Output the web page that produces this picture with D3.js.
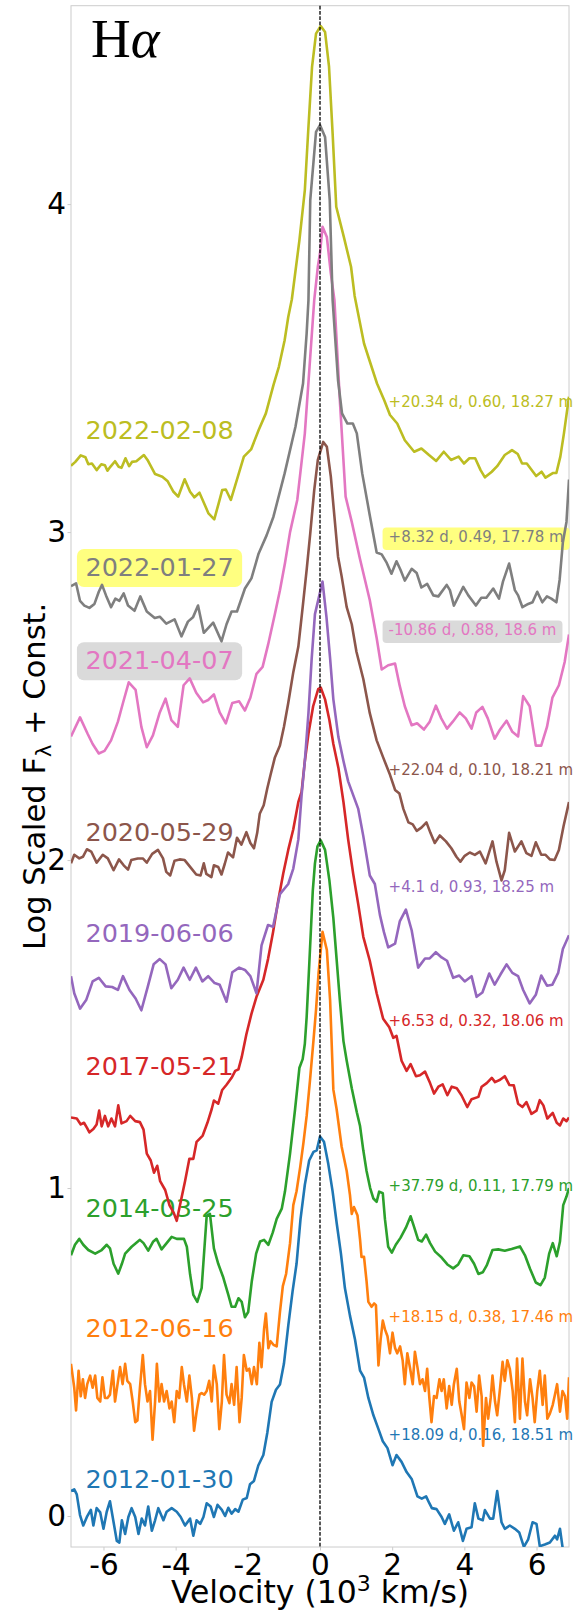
<!DOCTYPE html>
<html>
<head>
<meta charset="utf-8">
<script src="https://cdn.jsdelivr.net/npm/d3@7"></script>
<style>
  html, body { margin: 0; padding: 0; background: #fff; }
  svg { display: block; }
  text { font-family: "DejaVu Sans", sans-serif; }
</style>
</head>
<body>
<svg id="chart" width="579" height="1619"></svg>
<script>
// observation dates, bottom to top
const dates = ["2012-01-30", "2012-06-16", "2014-03-25", "2017-05-21", "2019-06-06",
  "2020-05-29", "2021-04-07", "2022-01-27", "2022-02-08"];

const lineColors = ["#1f77b4", "#ff7f0e", "#2ca02c", "#d62728", "#9467bd",
  "#8c564b", "#e377c2", "#7f7f7f", "#bcbd22"];

// phase, something, magnitude notes on the right
const notes = ["+18.09 d, 0.16, 18.51 m", "+18.15 d, 0.38, 17.46 m", "+37.79 d, 0.11, 17.79 m",
  "+6.53 d, 0.32, 18.06 m", "+4.1 d, 0.93, 18.25 m", "+22.04 d, 0.10, 18.21 m",
  "-10.86 d, 0.88, 18.6 m", "+8.32 d, 0.49, 17.78 m", "+20.34 d, 0.60, 18.27 m"];

// label baselines (data units)
const dateLabelY = [0.085, 0.546, 0.912, 1.345, 1.750, 2.058, 2.582, 2.866, 3.284];
const noteY = [0.232, 0.591, 0.991, 1.494, 1.902, 2.259, 2.686, 2.970, 3.381];
const dateLabelX = -6.5;
const noteX = 1.9;

// highlighted labels: index -> box colour
const labelBoxes = { 6: "#dadada", 7: "#ffff80" };

const xTicks = [-6, -4, -2, 0, 2, 4, 6];
const yTicks = [0, 1, 2, 3, 4];

// spectra: [velocity (10^3 km/s), log scaled flux + const]
const s20120130 = [[-6.90,0.076],[-6.81,0.081],[-6.74,0.066],[-6.65,0.003],[-6.56,-0.029],[-6.46,-0.003],[-6.35,0.019],[-6.28,-0.029],[-6.19,0.024],[-6.09,0.011],[-6.00,-0.039],[-5.91,0.013],[-5.82,0.045],[-5.72,-0.019],[-5.63,-0.076],[-5.56,-0.081],[-5.49,-0.013],[-5.40,-0.055],[-5.31,-0.003],[-5.22,0.024],[-5.12,-0.003],[-5.03,-0.055],[-4.94,-0.008],[-4.85,-0.029],[-4.76,0.029],[-4.66,-0.045],[-4.57,-0.013],[-4.48,0.024],[-4.34,-0.013],[-4.25,0.013],[-4.11,0.024],[-3.97,0.013],[-3.86,-0.003],[-3.74,-0.029],[-3.60,-0.008],[-3.51,-0.060],[-3.42,-0.013],[-3.32,-0.024],[-3.23,-0.003],[-3.14,0.039],[-3.03,0.029],[-2.94,-0.003],[-2.84,0.034],[-2.72,0.019],[-2.63,0.000],[-2.54,0.025],[-2.45,0.007],[-2.35,0.021],[-2.26,0.013],[-2.14,0.050],[-2.03,0.055],[-1.94,0.097],[-1.83,0.107],[-1.71,0.154],[-1.57,0.186],[-1.46,0.254],[-1.34,0.348],[-1.22,0.385],[-1.11,0.401],[-1.00,0.464],[-0.88,0.580],[-0.76,0.685],[-0.65,0.769],[-0.54,0.905],[-0.42,1.010],[-0.30,1.084],[-0.18,1.110],[-0.09,1.115],[0.00,1.157],[0.11,1.141],[0.23,1.073],[0.35,0.989],[0.46,0.895],[0.58,0.800],[0.69,0.695],[0.83,0.611],[0.97,0.538],[1.11,0.443],[1.22,0.422],[1.34,0.360],[1.48,0.307],[1.62,0.265],[1.74,0.228],[1.87,0.207],[2.01,0.155],[2.12,0.186],[2.26,0.165],[2.40,0.134],[2.54,0.113],[2.70,0.060],[2.82,0.053],[2.94,0.060],[3.03,0.039],[3.10,0.024],[3.23,0.021],[3.37,-0.003],[3.46,-0.024],[3.58,0.005],[3.71,-0.045],[3.83,-0.019],[3.96,-0.076],[4.06,-0.039],[4.20,-0.034],[4.29,0.039],[4.39,-0.008],[4.51,-0.013],[4.57,0.018],[4.71,-0.008],[4.80,-0.008],[4.91,0.076],[5.03,-0.019],[5.12,-0.039],[5.26,-0.029],[5.40,-0.039],[5.52,-0.050],[5.65,-0.094],[5.77,-0.071],[5.89,-0.019],[6.00,-0.024],[6.09,-0.092],[6.23,-0.087],[6.37,-0.081],[6.51,-0.060],[6.57,-0.071],[6.65,-0.039],[6.72,-0.094],[6.83,-0.200]];

const s20120616 = [[-6.90,0.464],[-6.81,0.391],[-6.76,0.322],[-6.69,0.443],[-6.63,0.365],[-6.57,0.417],[-6.51,0.360],[-6.45,0.402],[-6.37,0.428],[-6.30,0.391],[-6.23,0.428],[-6.17,0.360],[-6.09,0.349],[-6.03,0.423],[-5.96,0.360],[-5.89,0.360],[-5.82,0.370],[-5.74,0.443],[-5.68,0.349],[-5.61,0.402],[-5.54,0.454],[-5.47,0.402],[-5.40,0.464],[-5.34,0.412],[-5.26,0.402],[-5.19,0.349],[-5.12,0.286],[-5.06,0.291],[-4.99,0.391],[-4.91,0.491],[-4.85,0.402],[-4.78,0.349],[-4.71,0.381],[-4.64,0.233],[-4.57,0.349],[-4.52,0.464],[-4.45,0.349],[-4.39,0.402],[-4.32,0.349],[-4.25,0.381],[-4.17,0.328],[-4.11,0.349],[-4.04,0.286],[-3.97,0.381],[-3.90,0.360],[-3.83,0.454],[-3.77,0.402],[-3.69,0.349],[-3.62,0.428],[-3.55,0.360],[-3.49,0.260],[-3.42,0.318],[-3.34,0.370],[-3.28,0.375],[-3.21,0.370],[-3.14,0.381],[-3.07,0.412],[-3.00,0.349],[-2.94,0.459],[-2.86,0.402],[-2.79,0.265],[-2.72,0.349],[-2.66,0.491],[-2.59,0.370],[-2.51,0.344],[-2.45,0.402],[-2.38,0.339],[-2.31,0.454],[-2.23,0.286],[-2.17,0.360],[-2.11,0.491],[-2.03,0.443],[-1.96,0.449],[-1.89,0.402],[-1.83,0.454],[-1.75,0.402],[-1.68,0.528],[-1.62,0.454],[-1.55,0.570],[-1.50,0.617],[-1.43,0.512],[-1.37,0.533],[-1.29,0.522],[-1.20,0.517],[-1.11,0.622],[-1.03,0.701],[-0.94,0.738],[-0.83,0.832],[-0.74,0.948],[-0.65,0.990],[-0.55,1.063],[-0.46,1.137],[-0.37,1.220],[-0.28,1.325],[-0.18,1.451],[-0.11,1.543],[-0.04,1.655],[0.07,1.781],[0.19,1.726],[0.28,1.573],[0.37,1.300],[0.46,1.241],[0.60,1.126],[0.74,1.052],[0.83,0.979],[0.88,0.921],[0.94,0.942],[1.04,0.916],[1.11,0.843],[1.15,0.790],[1.22,0.790],[1.29,0.716],[1.34,0.653],[1.43,0.638],[1.50,0.648],[1.55,0.643],[1.62,0.459],[1.68,0.538],[1.74,0.596],[1.80,0.569],[1.87,0.548],[1.94,0.496],[2.01,0.559],[2.08,0.512],[2.14,0.496],[2.22,0.517],[2.29,0.475],[2.35,0.402],[2.42,0.496],[2.49,0.454],[2.57,0.402],[2.63,0.501],[2.70,0.454],[2.77,0.402],[2.84,0.417],[2.91,0.381],[2.97,0.449],[3.03,0.360],[3.09,0.286],[3.16,0.366],[3.23,0.360],[3.31,0.417],[3.37,0.381],[3.43,0.417],[3.51,0.328],[3.58,0.396],[3.65,0.339],[3.71,0.402],[3.79,0.449],[3.86,0.349],[3.92,0.312],[3.99,0.265],[4.06,0.407],[4.14,0.360],[4.20,0.407],[4.27,0.396],[4.34,0.318],[4.41,0.428],[4.48,0.365],[4.52,0.214],[4.60,0.360],[4.66,0.297],[4.73,0.360],[4.78,0.428],[4.85,0.349],[4.91,0.307],[4.99,0.391],[5.06,0.470],[5.12,0.412],[5.19,0.475],[5.26,0.449],[5.34,0.381],[5.40,0.286],[5.46,0.480],[5.54,0.297],[5.61,0.480],[5.68,0.349],[5.74,0.307],[5.82,0.417],[5.89,0.360],[5.95,0.286],[6.02,0.381],[6.09,0.443],[6.17,0.339],[6.23,0.428],[6.30,0.297],[6.37,0.312],[6.45,0.339],[6.51,0.370],[6.57,0.402],[6.65,0.318],[6.72,0.381],[6.79,0.365],[6.85,0.297],[6.90,0.423]];

const s20140325 = [[-6.90,0.795],[-6.79,0.827],[-6.67,0.845],[-6.56,0.827],[-6.42,0.811],[-6.23,0.800],[-6.05,0.811],[-5.91,0.827],[-5.82,0.816],[-5.72,0.769],[-5.59,0.739],[-5.49,0.769],[-5.40,0.800],[-5.22,0.821],[-4.99,0.842],[-4.89,0.832],[-4.76,0.809],[-4.62,0.837],[-4.53,0.845],[-4.39,0.813],[-4.25,0.832],[-4.11,0.851],[-3.97,0.845],[-3.77,0.845],[-3.69,0.821],[-3.60,0.737],[-3.51,0.674],[-3.40,0.653],[-3.28,0.695],[-3.14,0.915],[-3.05,0.921],[-2.94,0.816],[-2.82,0.769],[-2.68,0.727],[-2.54,0.674],[-2.45,0.638],[-2.35,0.638],[-2.26,0.664],[-2.17,0.653],[-2.08,0.606],[-1.99,0.622],[-1.89,0.716],[-1.77,0.800],[-1.66,0.837],[-1.55,0.842],[-1.43,0.827],[-1.31,0.864],[-1.20,0.906],[-1.06,0.937],[-0.97,0.990],[-0.83,1.105],[-0.69,1.241],[-0.57,1.367],[-0.48,1.393],[-0.42,1.440],[-0.37,1.521],[-0.30,1.677],[-0.20,1.906],[-0.14,1.990],[-0.07,2.042],[0.02,2.060],[0.14,2.031],[0.26,1.938],[0.37,1.823],[0.46,1.698],[0.55,1.573],[0.65,1.448],[0.74,1.388],[0.88,1.304],[1.02,1.231],[1.11,1.189],[1.20,1.115],[1.29,1.052],[1.39,1.000],[1.48,0.968],[1.57,0.958],[1.64,0.989],[1.74,0.984],[1.80,0.905],[1.89,0.821],[1.99,0.803],[2.10,0.827],[2.23,0.848],[2.38,0.879],[2.51,0.914],[2.60,0.884],[2.72,0.842],[2.82,0.837],[2.94,0.858],[3.05,0.832],[3.19,0.806],[3.37,0.788],[3.53,0.767],[3.69,0.755],[3.83,0.767],[3.97,0.795],[4.14,0.792],[4.27,0.769],[4.39,0.738],[4.51,0.743],[4.62,0.764],[4.78,0.811],[4.94,0.813],[5.12,0.809],[5.31,0.814],[5.54,0.822],[5.68,0.795],[5.82,0.754],[5.98,0.712],[6.11,0.704],[6.23,0.727],[6.35,0.800],[6.45,0.832],[6.56,0.792],[6.65,0.837],[6.74,0.948],[6.83,0.974],[6.90,1.000]];

const s20170521 = [[-6.90,1.215],[-6.74,1.212],[-6.63,1.194],[-6.54,1.199],[-6.46,1.184],[-6.39,1.170],[-6.28,1.180],[-6.19,1.194],[-6.12,1.236],[-6.05,1.188],[-5.96,1.220],[-5.87,1.188],[-5.78,1.212],[-5.68,1.188],[-5.59,1.252],[-5.50,1.197],[-5.36,1.204],[-5.26,1.220],[-5.12,1.204],[-4.99,1.201],[-4.89,1.178],[-4.80,1.105],[-4.69,1.084],[-4.60,1.047],[-4.51,1.068],[-4.43,1.021],[-4.29,0.994],[-4.17,0.947],[-4.06,0.926],[-3.97,0.900],[-3.86,0.958],[-3.74,1.021],[-3.62,1.089],[-3.51,1.089],[-3.42,1.141],[-3.25,1.160],[-3.12,1.199],[-3.00,1.241],[-2.94,1.267],[-2.82,1.257],[-2.71,1.299],[-2.59,1.315],[-2.45,1.336],[-2.35,1.357],[-2.26,1.362],[-2.17,1.399],[-2.04,1.469],[-1.90,1.531],[-1.76,1.583],[-1.57,1.635],[-1.44,1.698],[-1.30,1.781],[-1.16,1.875],[-1.02,1.958],[-0.88,2.031],[-0.74,2.094],[-0.60,2.177],[-0.51,2.208],[-0.42,2.302],[-0.32,2.385],[-0.19,2.469],[-0.05,2.521],[0.02,2.526],[0.14,2.490],[0.26,2.427],[0.37,2.354],[0.51,2.281],[0.65,2.177],[0.78,2.063],[0.92,1.958],[1.06,1.865],[1.20,1.766],[1.38,1.693],[1.57,1.594],[1.75,1.516],[1.92,1.490],[2.03,1.458],[2.12,1.464],[2.26,1.388],[2.40,1.357],[2.51,1.378],[2.66,1.341],[2.77,1.344],[2.91,1.355],[3.05,1.320],[3.16,1.288],[3.28,1.309],[3.40,1.316],[3.53,1.283],[3.65,1.309],[3.79,1.304],[3.92,1.283],[4.08,1.247],[4.20,1.271],[4.39,1.278],[4.48,1.309],[4.62,1.320],[4.76,1.336],[4.85,1.323],[4.99,1.330],[5.12,1.341],[5.25,1.314],[5.37,1.313],[5.49,1.257],[5.61,1.247],[5.72,1.262],[5.86,1.226],[6.00,1.236],[6.09,1.268],[6.19,1.252],[6.30,1.212],[6.45,1.229],[6.56,1.199],[6.65,1.191],[6.74,1.212],[6.83,1.204],[6.90,1.215]];

const s20190606 = [[-6.90,1.646],[-6.81,1.594],[-6.65,1.547],[-6.48,1.573],[-6.30,1.630],[-6.13,1.641],[-5.94,1.615],[-5.76,1.613],[-5.60,1.604],[-5.46,1.646],[-5.28,1.604],[-5.11,1.578],[-4.95,1.542],[-4.77,1.615],[-4.61,1.682],[-4.44,1.698],[-4.28,1.682],[-4.12,1.609],[-3.94,1.635],[-3.78,1.672],[-3.61,1.635],[-3.44,1.672],[-3.26,1.630],[-3.10,1.646],[-2.92,1.625],[-2.78,1.620],[-2.59,1.568],[-2.43,1.658],[-2.24,1.672],[-2.08,1.665],[-1.93,1.646],[-1.76,1.594],[-1.62,1.740],[-1.44,1.802],[-1.30,1.797],[-1.11,1.896],[-0.88,1.927],[-0.74,1.974],[-0.60,2.063],[-0.51,2.198],[-0.42,2.302],[-0.32,2.448],[-0.23,2.615],[-0.14,2.750],[0.07,2.849],[0.18,2.740],[0.28,2.615],[0.37,2.490],[0.51,2.375],[0.65,2.302],[0.78,2.240],[0.92,2.198],[1.06,2.156],[1.20,2.073],[1.38,1.953],[1.52,1.927],[1.66,1.833],[1.77,1.781],[1.89,1.734],[2.08,1.745],[2.21,1.813],[2.38,1.849],[2.54,1.786],[2.72,1.672],[2.91,1.700],[3.04,1.700],[3.21,1.719],[3.37,1.703],[3.52,1.693],[3.69,1.641],[3.86,1.648],[4.01,1.630],[4.20,1.646],[4.34,1.583],[4.50,1.596],[4.69,1.654],[4.84,1.620],[5.00,1.651],[5.17,1.682],[5.33,1.656],[5.49,1.646],[5.63,1.604],[5.81,1.563],[5.98,1.589],[6.13,1.648],[6.29,1.617],[6.44,1.620],[6.60,1.656],[6.73,1.729],[6.90,1.771]];

const s20200529 = [[-6.90,1.990],[-6.81,2.016],[-6.67,2.005],[-6.57,2.010],[-6.46,2.033],[-6.34,2.026],[-6.19,1.992],[-6.02,2.016],[-5.88,2.005],[-5.72,1.969],[-5.57,2.002],[-5.44,1.984],[-5.32,1.971],[-5.23,2.000],[-5.05,2.005],[-4.91,2.005],[-4.80,1.992],[-4.65,2.019],[-4.49,2.031],[-4.35,2.005],[-4.26,1.964],[-4.15,1.953],[-4.03,1.998],[-3.89,2.002],[-3.75,2.000],[-3.56,1.974],[-3.43,1.956],[-3.31,1.953],[-3.22,1.990],[-3.15,1.958],[-3.01,1.948],[-2.94,1.984],[-2.82,1.979],[-2.73,1.956],[-2.64,1.988],[-2.55,2.023],[-2.41,2.008],[-2.30,2.068],[-2.18,2.047],[-2.04,2.085],[-1.93,2.052],[-1.83,2.036],[-1.74,2.083],[-1.67,2.141],[-1.56,2.167],[-1.46,2.219],[-1.37,2.260],[-1.25,2.313],[-1.11,2.349],[-1.00,2.406],[-0.88,2.479],[-0.74,2.573],[-0.60,2.651],[-0.48,2.771],[-0.37,2.885],[-0.27,2.996],[-0.16,3.128],[-0.06,3.220],[0.09,3.275],[0.19,3.260],[0.30,3.169],[0.40,3.047],[0.50,2.925],[0.60,2.865],[0.74,2.771],[0.88,2.719],[1.01,2.635],[1.20,2.552],[1.38,2.448],[1.57,2.365],[1.75,2.313],[1.94,2.260],[2.08,2.214],[2.20,2.203],[2.31,2.156],[2.45,2.115],[2.57,2.109],[2.68,2.089],[2.81,2.099],[2.95,2.115],[3.06,2.083],[3.18,2.052],[3.32,2.075],[3.49,2.057],[3.64,2.036],[3.78,2.010],[3.89,1.995],[4.01,2.013],[4.15,2.023],[4.29,2.016],[4.43,2.026],[4.59,1.990],[4.78,2.057],[4.89,1.995],[5.03,1.938],[5.12,1.969],[5.24,2.083],[5.40,2.026],[5.58,2.057],[5.72,2.021],[5.86,2.013],[5.98,2.054],[6.13,2.016],[6.25,2.016],[6.37,2.002],[6.50,2.000],[6.62,2.031],[6.75,2.104],[6.90,2.177]];

const s20210407 = [[-6.90,2.377],[-6.65,2.435],[-6.44,2.385],[-6.30,2.354],[-6.13,2.325],[-5.97,2.333],[-5.79,2.365],[-5.60,2.422],[-5.46,2.479],[-5.30,2.542],[-5.11,2.519],[-4.95,2.406],[-4.80,2.344],[-4.63,2.380],[-4.44,2.450],[-4.28,2.492],[-4.12,2.427],[-3.94,2.406],[-3.78,2.533],[-3.61,2.554],[-3.43,2.510],[-3.24,2.481],[-3.10,2.488],[-2.94,2.505],[-2.78,2.450],[-2.61,2.417],[-2.43,2.479],[-2.24,2.484],[-2.08,2.456],[-1.93,2.495],[-1.76,2.568],[-1.59,2.589],[-1.44,2.656],[-1.25,2.750],[-1.11,2.823],[-0.97,2.906],[-0.83,3.000],[-0.63,3.098],[-0.42,3.301],[-0.29,3.504],[-0.16,3.707],[-0.06,3.809],[0.00,3.850],[0.07,3.931],[0.19,3.900],[0.30,3.789],[0.40,3.707],[0.55,3.402],[0.71,3.108],[0.88,3.031],[1.11,2.917],[1.38,2.792],[1.57,2.677],[1.71,2.581],[1.89,2.594],[2.08,2.599],[2.21,2.531],[2.35,2.469],[2.54,2.411],[2.69,2.417],[2.88,2.398],[3.04,2.422],[3.21,2.471],[3.36,2.432],[3.52,2.401],[3.68,2.422],[3.87,2.450],[4.04,2.432],[4.20,2.401],[4.33,2.450],[4.50,2.467],[4.65,2.432],[4.84,2.370],[4.99,2.398],[5.17,2.425],[5.33,2.391],[5.49,2.377],[5.63,2.500],[5.81,2.469],[5.98,2.349],[6.13,2.349],[6.29,2.406],[6.44,2.495],[6.62,2.533],[6.78,2.604],[6.90,2.688]];

const s20220127 = [[-6.90,2.835],[-6.76,2.844],[-6.65,2.790],[-6.53,2.776],[-6.39,2.769],[-6.25,2.781],[-6.13,2.818],[-6.04,2.839],[-5.93,2.807],[-5.79,2.771],[-5.67,2.797],[-5.56,2.790],[-5.44,2.813],[-5.32,2.776],[-5.14,2.760],[-4.98,2.804],[-4.80,2.758],[-4.58,2.738],[-4.44,2.742],[-4.26,2.721],[-4.03,2.734],[-3.84,2.682],[-3.66,2.727],[-3.52,2.740],[-3.38,2.776],[-3.22,2.693],[-2.96,2.724],[-2.73,2.667],[-2.59,2.719],[-2.45,2.758],[-2.30,2.758],[-2.08,2.828],[-1.90,2.859],[-1.70,2.935],[-1.48,2.990],[-1.29,3.047],[-0.98,3.179],[-0.68,3.321],[-0.47,3.453],[-0.37,3.606],[-0.32,3.707],[-0.27,4.012],[-0.11,4.220],[0.00,4.241],[0.14,4.205],[0.27,4.012],[0.35,3.707],[0.50,3.463],[0.61,3.362],[0.76,3.331],[0.91,3.331],[1.02,3.301],[1.17,3.179],[1.37,3.057],[1.57,2.938],[1.71,2.932],[1.85,2.906],[1.98,2.873],[2.12,2.911],[2.23,2.885],[2.35,2.852],[2.54,2.888],[2.68,2.875],[2.81,2.831],[2.97,2.842],[3.14,2.807],[3.28,2.804],[3.51,2.839],[3.60,2.823],[3.71,2.776],[3.83,2.802],[3.97,2.833],[4.11,2.807],[4.32,2.776],[4.47,2.800],[4.61,2.800],[4.80,2.828],[4.96,2.797],[5.07,2.849],[5.24,2.904],[5.40,2.823],[5.49,2.807],[5.61,2.771],[5.77,2.781],[5.89,2.786],[6.02,2.818],[6.16,2.786],[6.29,2.804],[6.41,2.797],[6.55,2.786],[6.64,2.854],[6.73,2.969],[6.83,3.031],[6.90,3.160]];

const s20220208 = [[-6.90,3.202],[-6.78,3.214],[-6.63,3.234],[-6.50,3.228],[-6.42,3.207],[-6.32,3.209],[-6.19,3.189],[-6.06,3.207],[-5.96,3.204],[-5.89,3.187],[-5.81,3.199],[-5.68,3.216],[-5.58,3.199],[-5.50,3.196],[-5.39,3.225],[-5.29,3.201],[-5.21,3.214],[-5.09,3.216],[-4.88,3.235],[-4.78,3.220],[-4.57,3.177],[-4.37,3.169],[-4.22,3.155],[-4.06,3.123],[-3.93,3.108],[-3.75,3.161],[-3.60,3.123],[-3.48,3.106],[-3.34,3.120],[-3.24,3.095],[-3.09,3.057],[-2.93,3.039],[-2.81,3.087],[-2.71,3.128],[-2.61,3.130],[-2.47,3.098],[-2.32,3.153],[-2.11,3.230],[-1.91,3.252],[-1.70,3.311],[-1.50,3.362],[-1.29,3.448],[-1.14,3.504],[-0.98,3.585],[-0.88,3.656],[-0.78,3.710],[-0.57,3.890],[-0.42,4.043],[-0.32,4.236],[-0.22,4.419],[-0.11,4.520],[0.02,4.543],[0.14,4.525],[0.25,4.419],[0.35,4.215],[0.45,3.992],[0.66,3.900],[0.86,3.809],[0.96,3.720],[1.22,3.575],[1.37,3.524],[1.58,3.453],[1.78,3.402],[1.94,3.357],[2.14,3.331],[2.35,3.280],[2.61,3.245],[2.81,3.255],[3.02,3.235],[3.22,3.217],[3.43,3.245],[3.63,3.220],[3.84,3.230],[3.99,3.209],[4.14,3.225],[4.30,3.225],[4.45,3.189],[4.57,3.167],[4.76,3.184],[4.91,3.201],[5.12,3.235],[5.32,3.250],[5.48,3.238],[5.60,3.209],[5.73,3.209],[5.99,3.171],[6.14,3.184],[6.25,3.166],[6.45,3.180],[6.55,3.180],[6.66,3.230],[6.76,3.301],[6.90,3.413]];

const spectra = [s20120130, s20120616, s20140325, s20170521, s20190606,
  s20200529, s20210407, s20220127, s20220208];

// ---- layout ----
const plot = { left: 71, right: 569, top: 5.7, bottom: 1547 };

const svg = d3.select("#chart");
const x = d3.scaleLinear().domain([-6.9, 6.9]).range([plot.left, plot.right]);
const y = d3.scaleLinear().domain([-0.0945, 4.605]).range([plot.bottom, plot.top]);

svg.append("defs").append("clipPath").attr("id", "plotClip")
  .append("rect")
  .attr("x", plot.left).attr("y", plot.top)
  .attr("width", plot.right - plot.left).attr("height", plot.bottom - plot.top);

// axes
const xAxis = svg.append("g")
  .attr("transform", `translate(0,${plot.bottom})`)
  .call(d3.axisBottom(x).tickValues(xTicks).tickSize(3.5).tickPadding(3.5).tickFormat(d => String(d)));
const yAxis = svg.append("g")
  .attr("transform", `translate(${plot.left},0)`)
  .call(d3.axisLeft(y).tickValues(yTicks).tickSize(3.5).tickPadding(1.5).tickFormat(d => String(d)));

[xAxis, yAxis].forEach(g => {
  g.select(".domain").remove();
  g.selectAll(".tick line").attr("stroke", "#cccccc");
  g.selectAll(".tick text")
    .attr("fill", "#000")
    .style("font-family", "DejaVu Sans")
    .style("font-size", "29.5px");
});

// frame
svg.append("rect")
  .attr("x", plot.left).attr("y", plot.top)
  .attr("width", plot.right - plot.left).attr("height", plot.bottom - plot.top)
  .attr("fill", "none").attr("stroke", "#cccccc").attr("stroke-width", 1);

// axis titles
svg.append("text")
  .attr("x", (plot.left + plot.right) / 2).attr("y", 1603)
  .attr("text-anchor", "middle")
  .style("font-size", "31.5px")
  .call(t => {
    t.append("tspan").text("Velocity (10");
    t.append("tspan").attr("dy", -12).style("font-size", "22px").text("3");
    t.append("tspan").attr("dy", 12).text(" km/s)");
  });

svg.append("text")
  .attr("transform", `translate(45,${(plot.top + plot.bottom) / 2}) rotate(-90)`)
  .attr("text-anchor", "middle")
  .style("font-size", "30.5px")
  .call(t => {
    t.append("tspan").text("Log Scaled F");
    t.append("tspan").attr("dy", 6).style("font-size", "21px").text("λ");
    t.append("tspan").attr("dy", -6).text(" + Const.");
  });

// line label
svg.append("text")
  .attr("x", 91).attr("y", 57)
  .style("font-family", "Liberation Serif, DejaVu Serif, serif")
  .style("font-size", "55px")
  .call(t => {
    t.append("tspan").text("H");
    t.append("tspan").style("font-style", "italic").text("α");
  });

// date labels (left) and notes (right)
const gLabels = svg.append("g");
dates.forEach((d, i) => {
  const tx = gLabels.append("text")
    .attr("x", x(dateLabelX)).attr("y", y(dateLabelY[i]))
    .attr("fill", lineColors[i])
    .style("font-size", "25.5px")
    .text(d);
  const nt = gLabels.append("text")
    .attr("x", x(noteX)).attr("y", y(noteY[i]))
    .attr("fill", lineColors[i])
    .style("font-size", "15px")
    .text(notes[i]);
  if (labelBoxes[i]) {
    const w1 = tx.node().getComputedTextLength();
    gLabels.insert("rect", "text")
      .attr("x", x(dateLabelX) - 8.5).attr("y", y(dateLabelY[i]) - 27)
      .attr("width", w1 + 17).attr("height", 38)
      .attr("rx", 7).attr("fill", labelBoxes[i]);
    const w2 = nt.node().getComputedTextLength();
    gLabels.insert("rect", "text")
      .attr("x", x(noteX) - 6).attr("y", y(noteY[i]) - 14.5)
      .attr("width", w2 + 12).attr("height", 22.5)
      .attr("rx", 4).attr("fill", labelBoxes[i]);
  }
});

// spectra
const line = d3.line().x(d => x(d[0])).y(d => y(d[1]));
svg.append("g").attr("clip-path", "url(#plotClip)")
  .selectAll("path.spec")
  .data(spectra)
  .join("path")
  .attr("class", "spec")
  .attr("d", line)
  .attr("fill", "none")
  .attr("stroke", (d, i) => lineColors[i])
  .attr("stroke-width", 2.6)
  .attr("stroke-linejoin", "round");

// zero velocity
svg.append("line")
  .attr("x1", x(0)).attr("x2", x(0))
  .attr("y1", plot.top).attr("y2", plot.bottom)
  .attr("stroke", "#000").attr("stroke-width", 1.3)
  .attr("stroke-dasharray", "3.7,1.6");
</script>
</body>
</html>
